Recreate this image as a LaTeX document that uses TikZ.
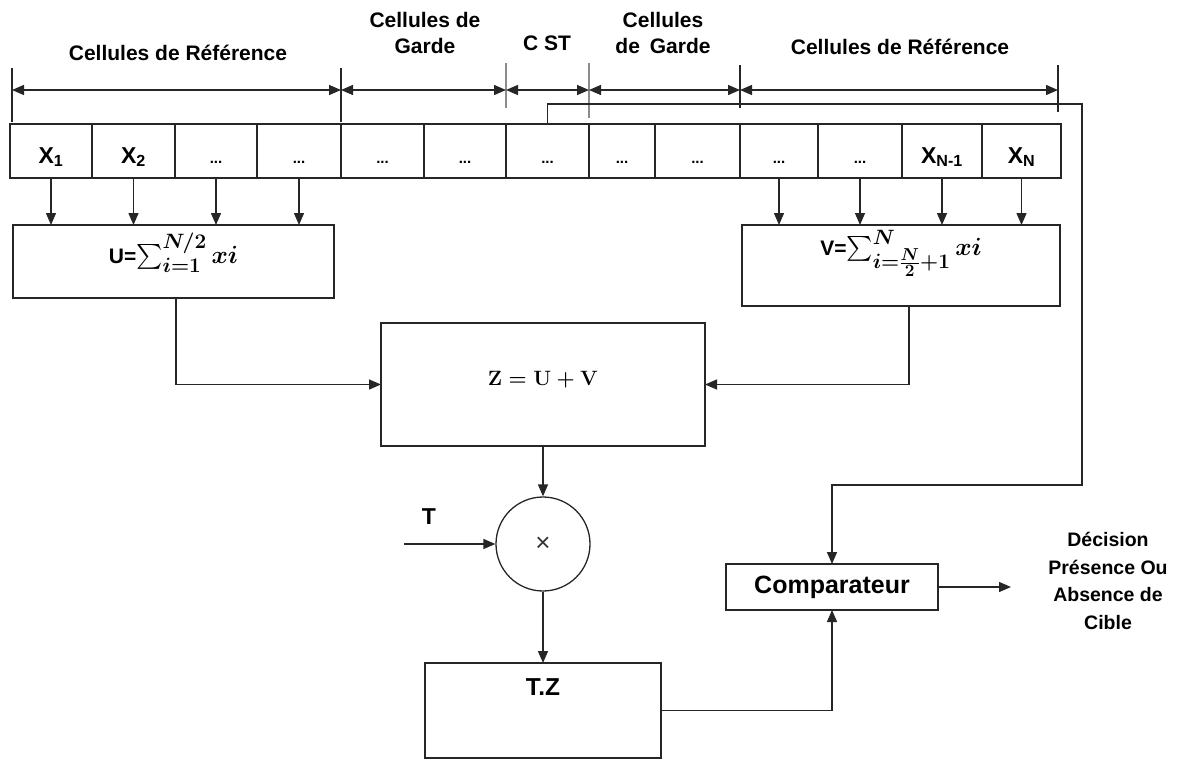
\documentclass[tikz,border=0pt]{standalone}
\usepackage{amsmath}
\usepackage[no-math]{fontspec}
\setmainfont{Liberation Sans}
\usetikzlibrary{arrows.meta,calc}

\tikzset{
  box/.style={draw=black!85, line width=1.6pt, rectangle, inner sep=0pt, outer sep=0pt},
  cellbox/.style={box, line width=1.4pt, minimum height=54pt, text height=24pt, text depth=0pt,
    font=\fontsize{23}{24}\selectfont\bfseries},
  tip/.tip={Triangle[length=12pt,width=10pt]},
  arr/.style={draw=black!85, line width=1.4pt, -tip},
  dimarr/.style={draw=black!85, line width=1.4pt, tip-tip},
  tick/.style={draw=black!85, line width=1.2pt},
  gtick/.style={draw=black!45, line width=1.4pt},
  lbl/.style={font=\fontsize{21}{26}\selectfont\bfseries, align=center, inner sep=0pt},
}
\newcommand\celldots{{\fontsize{15}{15}\selectfont ...}}
\newcommand\bigmath{\fontsize{24.88}{28}\selectfont}

\begin{document}
\begin{tikzpicture}[x=1pt,y=-1pt]
\useasboundingbox (0,0) rectangle (1183,763);

% row of cells
\foreach \i/\l/\r/\t in {
  1/10/92/{X\textsubscript{1}}, 2/92/175/{X\textsubscript{2}},
  3/175/257/\celldots, 4/257/341/\celldots, 5/341/424/\celldots,
  6/424/506/\celldots, 7/506/589/\celldots, 8/589/655/\celldots,
  9/655/740/\celldots, 10/740/818/\celldots, 11/818/902/\celldots,
  12/902/982/{X\textsubscript{N-1}}, 13/982/1061/{X\textsubscript{N}}}{
  \pgfmathsetmacro\w{\r-\l}
  \pgfmathsetmacro\cx{(\l+\r)/2}
  \node[cellbox, minimum width=\w pt] (c\i) at (\cx,151) {\t};
}
\draw[line width=2.6pt, black!85] (c1.north west) rectangle (c13.south east);

% dimension lines above the cells
\foreach \n/\x in {0/12,1/341,2/506,3/589,4/740,5/1058}
  \coordinate (d\n) at (\x,90);
\draw[tick] (d0) ++(0,-22) -- ++(0,54);
\draw[tick] (d1) ++(0,-22) -- ++(0,54);
\draw[gtick] (d2) ++(0,-27) -- ++(0,45);
\draw[gtick] (d3) ++(0,-27) -- ++(0,55);
\draw[tick] (d4) ++(0,-25) -- ++(0,43);
\draw[tick] (d5) ++(0,-25) -- ++(0,47);
\draw[dimarr] (d0) -- (d1);
\draw[dimarr] (d1) -- (d2);
\draw[dimarr] (d2) -- (d3);
\draw[dimarr] (d3) -- (d4);
\draw[dimarr] (d4) -- (d5);

\node[lbl] (l1) at (178,53) {Cellules de Référence};
\node[lbl] (l2) at (425,33) {Cellules de\\Garde};
\node[lbl] (l3) at (547,43) {C ST};
\node[lbl] (l4) at (663,33) {Cellules\\de\hspace{4pt} Garde};
\node[lbl] (l5) at (900,47) {Cellules de Référence};

% summation blocks
\node[box, minimum width=321pt, minimum height=73pt, text height=10pt, text depth=7pt,
  font=\fontsize{21}{24}\selectfont\bfseries\boldmath] (U) at (173.5,261.5)
  {U={\bigmath$\sum_{i=1}^{N/2} xi$}};
\node[box, minimum width=318pt, minimum height=81pt, text height=0pt, text depth=21pt,
  font=\fontsize{21}{24}\selectfont\bfseries\boldmath] (V) at (901,265.5)
  {V={\bigmath$\sum_{i=\frac{N}{2}+1}^{N} xi$}};

\foreach \i in {1,...,4} \draw[arr] (c\i.south) -- (c\i.south |- U.north);
\foreach \i in {10,...,13} \draw[arr] (c\i.south) -- (c\i.south |- V.north);

% sum of both halves
\node[box, minimum width=324pt, minimum height=123pt, text height=8pt, text depth=7pt,
  font=\fontsize{22}{24}\selectfont\boldmath] (Z) at (543,384.5)
  {$\mathbf{Z}=\mathbf{U}+\mathbf{V}$};
\draw[arr] ($(U.south)+(2.5,0)$) |- (Z.west);
\draw[arr] ($(V.south)+(8,0)$) |- (Z.east);

% multiplier
\node[circle, draw=black!85, line width=1.3pt, minimum size=94pt, inner sep=0pt,
  font=\fontsize{26}{26}\selectfont, text=black!80] (M) at (543,544) {×};
\draw[arr] (Z.south) -- (M.north);
\coordinate (tin) at (404,544);
\node[font=\fontsize{23}{24}\selectfont\bfseries] (T) at (429,517) {T};
\draw[arr] (tin) -- (M.west);

% threshold block
\node[box, minimum width=236pt, minimum height=95pt, text height=0pt, text depth=31pt,
  font=\fontsize{24.5}{26}\selectfont\bfseries] (TZ) at (543,710.5) {T.Z};
\draw[arr] (M.south) -- (TZ.north);

% comparator and decision
\node[box, minimum width=212pt, minimum height=46pt, text height=12pt, text depth=0pt,
  font=\fontsize{25}{26}\selectfont\bfseries] (C) at (832,587) {Comparateur};
\draw[arr] (TZ.east) -| (C.south);
\coordinate (dec) at (1011,587);
\draw[arr] (C.east) -- (dec);
\node[font=\fontsize{19.5}{27.5}\selectfont\bfseries, align=center] (D) at (1108,581)
  {Décision\\Présence Ou\\Absence de\\Cible};

% cell under test fed to the comparator
\coordinate (f2) at (1082,104);
\coordinate (f3) at (1082,485);
\draw[arr] (c7.north) |- (f2) -- (f3) -| (C.north);
\end{tikzpicture}
\end{document}
